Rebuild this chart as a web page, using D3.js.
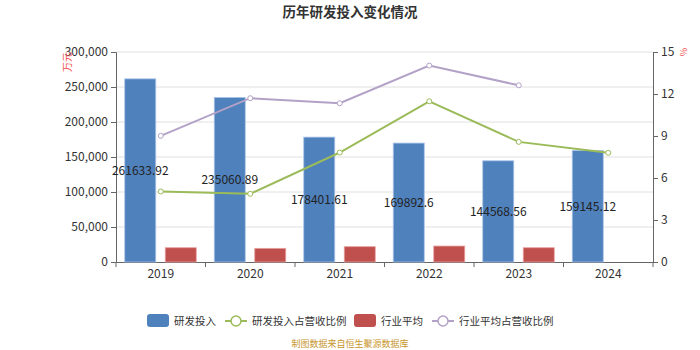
<!DOCTYPE html>
<html><head><meta charset="utf-8">
<script src="https://cdn.jsdelivr.net/npm/d3@7"></script>
<style>body{margin:0;background:#fff;}svg{display:block;font-family:"Microsoft YaHei","Noto Sans CJK SC",sans-serif;}</style>
</head><body><svg id="c" width="700" height="350"></svg>
<script>
const years = ["2019","2020","2021","2022","2023","2024"];
const rdInvest = [261633.92, 235060.89, 178401.61, 169892.6, 144568.56, 159145.12];
const rdRatio = [5.04, 4.87, 7.82, 11.48, 8.58, 7.80];
const industryAvg = [20400, 19500, 21900, 22800, 20400, null];
const industryRatio = [9.01, 11.70, 11.34, 14.03, 12.62, null];
const leftTicks = [0, 50000, 100000, 150000, 200000, 250000, 300000];
const rightTicks = [0, 3, 6, 9, 12, 15];
const legendLabels = ["研发投入", "研发投入占营收比例", "行业平均", "行业平均占营收比例"];

const svg = d3.select("#c");
const L = 116, R = 653, T = 52, B = 262;
const x = d3.scaleBand().domain(years).range([L, R]);
const yL = d3.scaleLinear().domain([0, 300000]).range([B, T]);
const yR = d3.scaleLinear().domain([0, 15]).range([B, T]);
const cBlue = "#4f81bd", cRed = "#c0504d", cGreen = "#9bbb59", cPurple = "#b3a2c7";

// title
svg.append("text").attr("x", 350).attr("y", 17).attr("text-anchor", "middle")
  .attr("font-size", 13.5).attr("font-weight", "bold").attr("fill", "#333").text("历年研发投入变化情况");

// grid
svg.append("g").selectAll("line").data(leftTicks.slice(1)).join("line")
  .attr("x1", L).attr("x2", R).attr("y1", d => yL(d)).attr("y2", d => yL(d))
  .attr("stroke", "#e0e0e0").attr("stroke-width", 1);

// axes
const gl = svg.append("g").attr("transform", `translate(${L},0)`)
  .call(d3.axisLeft(yL).tickValues(leftTicks).tickFormat(d3.format(",")).tickSizeOuter(0).tickSize(5));
const gr = svg.append("g").attr("transform", `translate(${R},0)`)
  .call(d3.axisRight(yR).tickValues(rightTicks).tickSizeOuter(0).tickSize(5));
const gx = svg.append("g").attr("transform", `translate(0,${B})`)
  .call(d3.axisBottom(x).tickSize(0).tickSizeOuter(0));
gx.selectAll(".tick text").attr("dy", "1.1em");
// x ticks at band boundaries
svg.append("g").selectAll("line").data(d3.range(years.length + 1)).join("line")
  .attr("x1", i => L + i * x.step()).attr("x2", i => L + i * x.step())
  .attr("y1", B).attr("y2", B + 5).attr("stroke", "#666");
[gl, gr, gx].forEach(g => {
  g.selectAll(".domain, .tick line").attr("stroke", "#666");
  g.selectAll("text").attr("font-size", 12).attr("fill", "#333").attr("font-family", "\"Microsoft YaHei\",\"Noto Sans CJK SC\",sans-serif");
});

// axis unit labels
svg.append("text").attr("transform", "translate(71,62) rotate(-90)").attr("text-anchor", "middle")
  .attr("font-size", 10).attr("fill", "#f05050").text("万元");
svg.append("text").attr("transform", "translate(687,52) rotate(-90)").attr("text-anchor", "middle")
  .attr("font-size", 9).attr("fill", "#f05050").text("%");

const bw = 31;
// blue bars
svg.append("g").selectAll("rect").data(rdInvest).join("rect")
  .attr("x", (d, i) => x(years[i]) + x.step() / 2 - 36).attr("width", bw)
  .attr("y", d => yL(d)).attr("height", d => B - yL(d))
  .attr("fill", cBlue).attr("stroke", "#a9c4e8").attr("stroke-width", 0.8);
// red bars
svg.append("g").selectAll("rect").data(industryAvg.map((v, i) => ({v, i})).filter(d => d.v != null)).join("rect")
  .attr("x", d => x(years[d.i]) + x.step() / 2 + 4.5).attr("width", bw)
  .attr("y", d => yL(d.v)).attr("height", d => B - yL(d.v))
  .attr("fill", cRed).attr("stroke", "#e8a0a0").attr("stroke-width", 0.8);

// lines
function drawLine(vals, color) {
  const pts = vals.map((v, i) => ({v, i})).filter(d => d.v != null);
  svg.append("path").datum(pts)
    .attr("d", d3.line().x(d => x(years[d.i]) + x.step() / 2).y(d => yR(d.v)))
    .attr("fill", "none").attr("stroke", color).attr("stroke-width", 2);
  svg.append("g").selectAll("circle").data(pts).join("circle")
    .attr("cx", d => x(years[d.i]) + x.step() / 2).attr("cy", d => yR(d.v)).attr("r", 2.5)
    .attr("fill", "#fff").attr("stroke", color).attr("stroke-width", 1);
}
drawLine(industryRatio, cPurple);
drawLine(rdRatio, cGreen);

// value labels
svg.append("g").selectAll("text").data(rdInvest).join("text")
  .attr("x", (d, i) => x(years[i]) + x.step() / 2 - 20.5)
  .attr("y", d => yL(d / 2) + 4.5).attr("text-anchor", "middle")
  .attr("font-size", 12).attr("fill", "#222").text(d => String(d));

// legend
const lg = svg.append("g");
const items = [
  {t: legendLabels[0], type: "rect", c: cBlue, x: 147},
  {t: legendLabels[1], type: "line", c: cGreen, x: 225},
  {t: legendLabels[2], type: "rect", c: cRed, x: 354},
  {t: legendLabels[3], type: "line", c: cPurple, x: 432}
];
const ly = 321;
items.forEach(it => {
  if (it.type === "rect") {
    lg.append("rect").attr("x", it.x).attr("y", ly - 7).attr("width", 22).attr("height", 13).attr("rx", 3).attr("fill", it.c);
  } else {
    lg.append("line").attr("x1", it.x).attr("x2", it.x + 22).attr("y1", ly).attr("y2", ly).attr("stroke", it.c).attr("stroke-width", 2);
    lg.append("circle").attr("cx", it.x + 11).attr("cy", ly).attr("r", 5).attr("fill", "#fff").attr("stroke", it.c).attr("stroke-width", 1.5);
  }
  lg.append("text").attr("x", it.x + 27).attr("y", ly + 4).attr("font-size", 10.5).attr("fill", "#333").text(it.t);
});

// source
svg.append("text").attr("x", 350).attr("y", 347).attr("text-anchor", "middle")
  .attr("font-size", 9).attr("fill", "#c8962e").text("制图数据来自恒生聚源数据库");
</script></body></html>
